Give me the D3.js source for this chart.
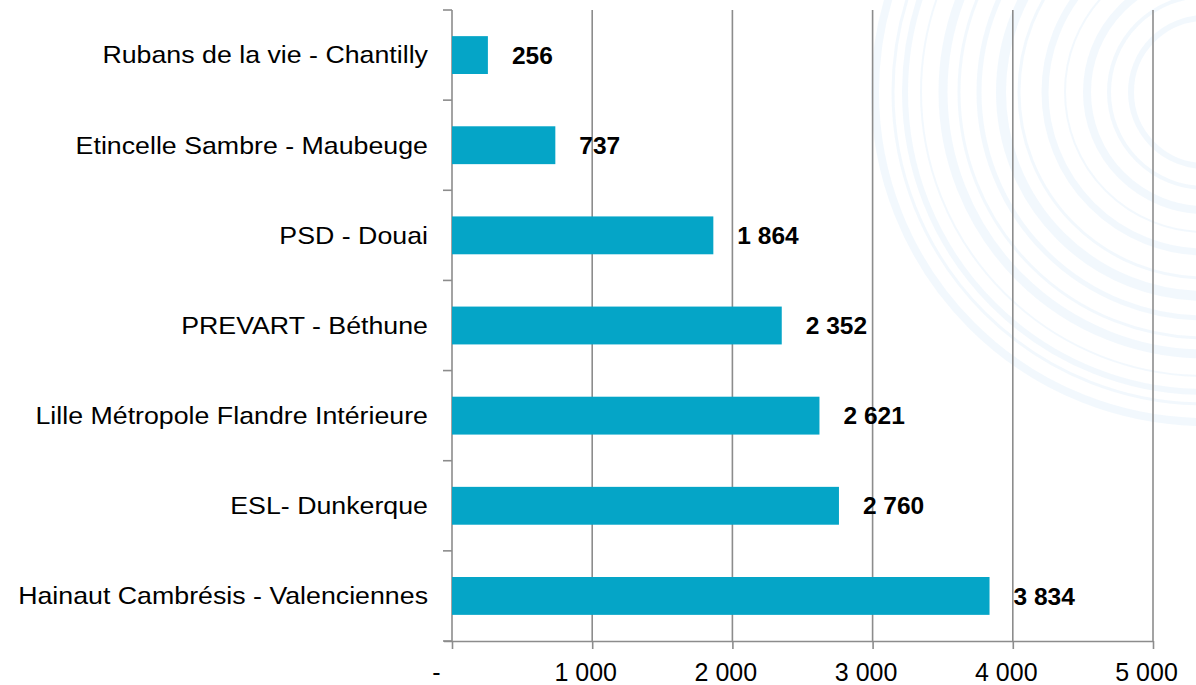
<!DOCTYPE html>
<html>
<head>
<meta charset="utf-8">
<script src="https://cdn.jsdelivr.net/npm/d3@7"></script>
<style>
  body { margin: 0; background: #fff; }
  text { font-family: "Liberation Sans", Arial, sans-serif; }
</style>
</head>
<body>
<div id="chart"></div>
<script>
// Data
const categories = [
  "Rubans de la vie - Chantilly",
  "Etincelle Sambre - Maubeuge",
  "PSD - Douai",
  "PREVART - Béthune",
  "Lille Métropole Flandre Intérieure",
  "ESL- Dunkerque",
  "Hainaut Cambrésis - Valenciennes"
];
const values = [256, 737, 1864, 2352, 2621, 2760, 3834];
const tickValues = [0, 1000, 2000, 3000, 4000, 5000];

// decorative background rings (radius, stroke width)
const ringRadii = [330, 312, 300, 284, 262, 246, 226, 204, 186, 160, 140, 118, 96, 74];
const ringWidths = [8, 3, 6, 2, 9, 3, 5, 10, 3, 7, 2, 8, 4, 6];

const width = 1196;
const height = 685;

const svg = d3.select("#chart").append("svg")
    .attr("width", width)
    .attr("height", height);

// Background swirl
const rings = svg.append("g").attr("class", "rings");
rings.selectAll("circle")
    .data(ringRadii)
    .enter().append("circle")
    .attr("cx", 1205)
    .attr("cy", 92)
    .attr("r", d => d)
    .attr("fill", "none")
    .attr("stroke", "#e3f0fa")
    .attr("stroke-opacity", 0.45)
    .attr("stroke-width", (d, i) => ringWidths[i]);

// Scales
const x = d3.scaleLinear()
    .domain([0, 5000])
    .range([452, 1153]);

const y = d3.scaleBand()
    .domain(categories)
    .range([10, 641])
    .paddingInner(0.58)
    .paddingOuter(0.29);

const bandStep = y.step();
const fmt = v => v === 0 ? "-" : d3.format(",")(v).replace(/,/g, " ");

// Vertical gridlines
svg.append("g")
    .selectAll("line")
    .data(tickValues.slice(1))
    .enter().append("line")
    .attr("x1", d => x(d))
    .attr("x2", d => x(d))
    .attr("y1", 10)
    .attr("y2", 641)
    .attr("stroke", "#8c8c8c")
    .attr("stroke-width", 1.6);

// Bottom axis
const xAxis = svg.append("g")
    .attr("transform", "translate(0,641)")
    .call(d3.axisBottom(x).tickValues(tickValues).tickSize(8).tickSizeOuter(0).tickFormat(fmt));
xAxis.select(".domain").attr("stroke", "#8c8c8c").attr("stroke-width", 1.6)
    .attr("d", "M444,0.5H" + x(5000));
xAxis.selectAll(".tick line").attr("stroke", "#8c8c8c").attr("stroke-width", 1.6);
xAxis.selectAll(".tick text")
    .attr("font-size", 25)
    .attr("fill", "#000")
    .attr("y", 22)
    .attr("dy", "0.71em")
    .attr("dx", d => d === 0 ? -16 : -7);

// Left axis (line + ticks at band edges)
const edges = d3.range(categories.length + 1).map(i => 10 + i * bandStep);
svg.append("line")
    .attr("x1", 452).attr("x2", 452)
    .attr("y1", 10).attr("y2", 641)
    .attr("stroke", "#8c8c8c").attr("stroke-width", 1.6);
svg.append("g")
    .selectAll("line")
    .data(edges)
    .enter().append("line")
    .attr("x1", 443).attr("x2", 452)
    .attr("y1", d => d).attr("y2", d => d)
    .attr("stroke", "#8c8c8c").attr("stroke-width", 1.6);

// Category labels (slightly wide lettering, like the original)
svg.append("g")
    .attr("transform", "translate(428,0) scale(1.115,1)")
    .selectAll("text")
    .data(categories)
    .enter().append("text")
    .attr("x", 0)
    .attr("y", d => y(d) + y.bandwidth() / 2)
    .attr("dy", "0.35em")
    .attr("text-anchor", "end")
    .attr("font-size", 24)
    .attr("fill", "#000")
    .text(d => d);

// Bars
svg.append("g")
    .selectAll("rect")
    .data(values)
    .enter().append("rect")
    .attr("x", x(0))
    .attr("y", (d, i) => y(categories[i]))
    .attr("width", d => x(d) - x(0))
    .attr("height", y.bandwidth())
    .attr("fill", "#05a5c7");

// Value labels
svg.append("g")
    .selectAll("text")
    .data(values)
    .enter().append("text")
    .attr("x", d => x(d) + 24)
    .attr("y", (d, i) => y(categories[i]) + y.bandwidth() / 2)
    .attr("dy", "0.35em")
    .attr("font-size", 24.5)
    .attr("font-weight", "bold")
    .attr("fill", "#000")
    .text(d => fmt(d));
</script>
</body>
</html>
